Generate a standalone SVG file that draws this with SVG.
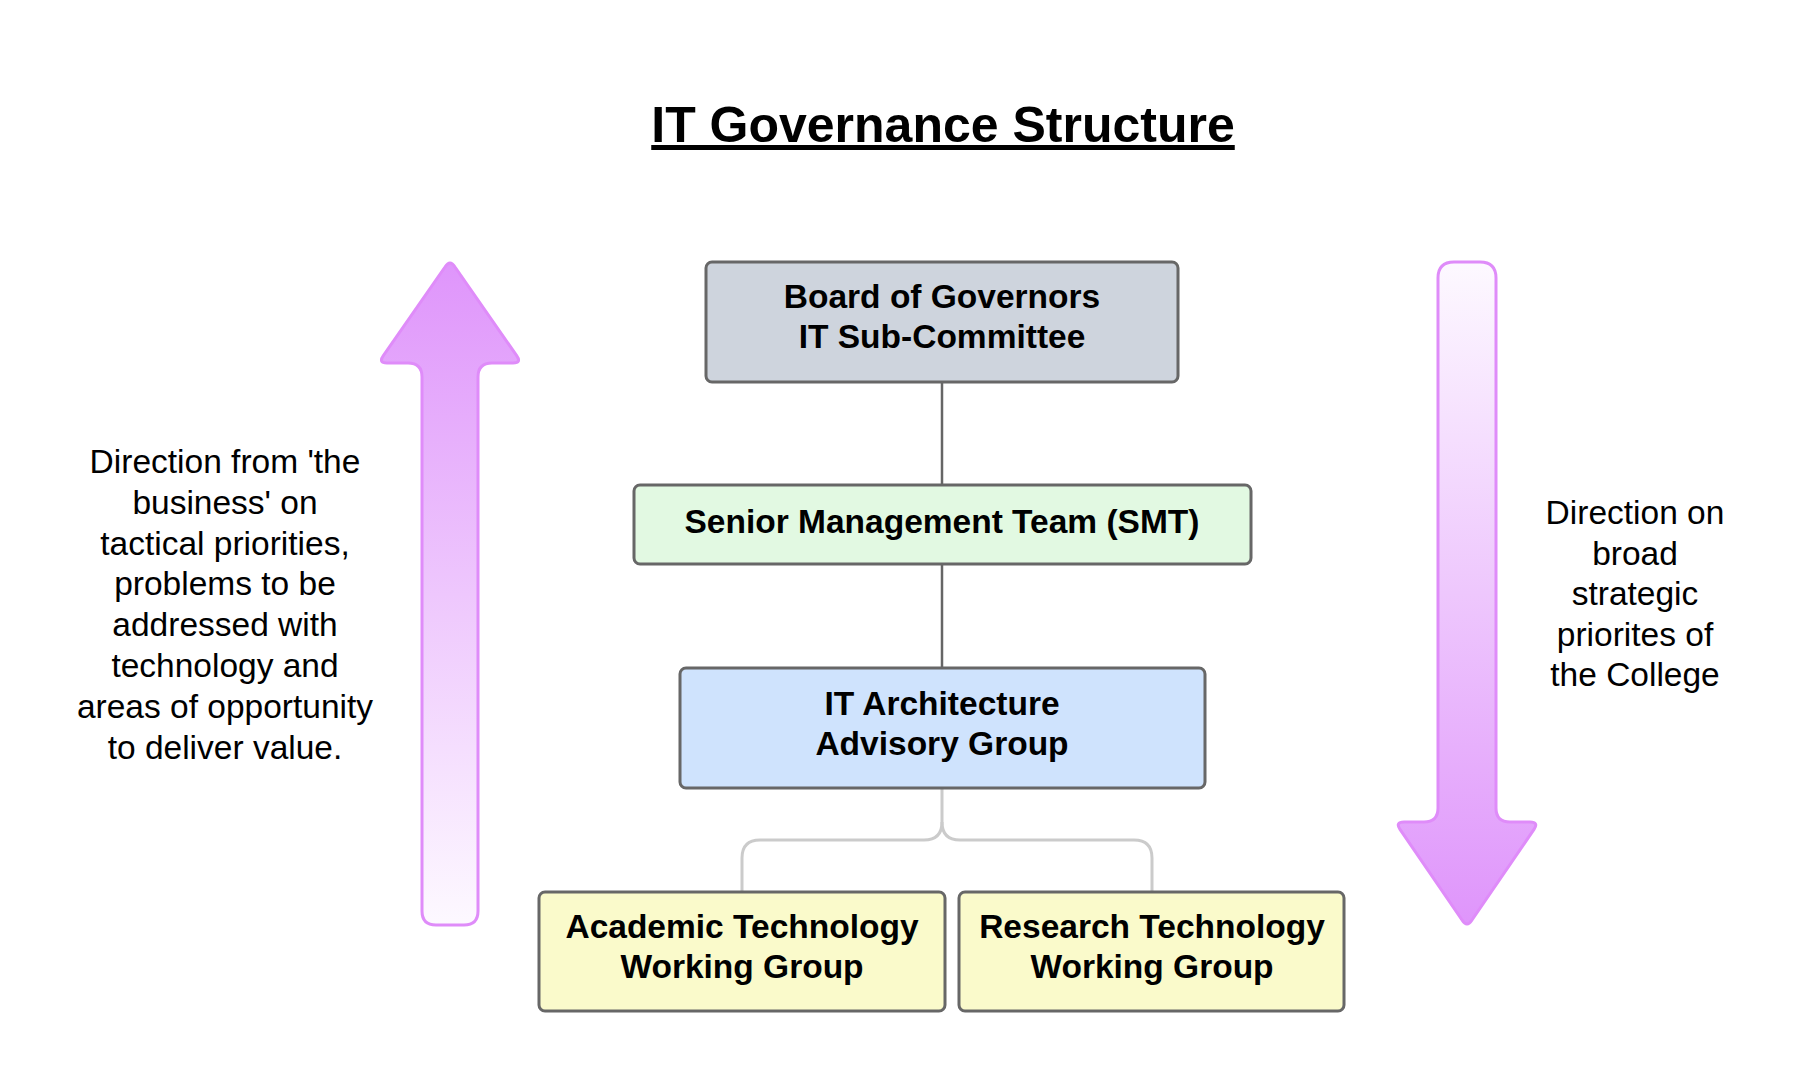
<svg xmlns="http://www.w3.org/2000/svg" width="1804" height="1086" viewBox="0 0 1804 1086">
<defs>
<linearGradient id="gUp" x1="0" y1="0" x2="0" y2="1">
<stop offset="0" stop-color="#df95fb"/>
<stop offset="1" stop-color="#fdf9ff"/>
</linearGradient>
<linearGradient id="gDown" x1="0" y1="0" x2="0" y2="1">
<stop offset="0" stop-color="#fdf9ff"/>
<stop offset="1" stop-color="#df95fb"/>
</linearGradient>
<style>
.node{stroke:#676767;stroke-width:3;}
.nt{font-family:"Liberation Sans",Arial,sans-serif;font-weight:bold;font-size:33.5px;fill:#000;text-anchor:middle;}
.lt{font-family:"Liberation Sans",Arial,sans-serif;font-size:33.5px;fill:#000;text-anchor:middle;}
.arrow{stroke:#df8cf9;stroke-width:3;stroke-linejoin:round;}
.conn{fill:none;stroke:#666;stroke-width:2.5;}
.branch{fill:none;stroke:#cbcbcb;stroke-width:3;}
</style>
</defs>
<rect width="1804" height="1086" fill="#fff"/>

<text id="title" x="943" y="142" font-family="Liberation Sans, Arial, sans-serif" font-weight="bold" font-size="50" text-anchor="middle" text-decoration="underline">IT Governance Structure</text>

<g id="connectors">
<line class="conn" x1="942" y1="382" x2="942" y2="485"/>
<line class="conn" x1="942" y1="564" x2="942" y2="668"/>
<path class="branch" d="M942 788 L942 822 Q942 840 924 840 L760 840 Q742 840 742 858 L742 892"/>
<path class="branch" d="M942 822 Q942 840 960 840 L1134 840 Q1152 840 1152 858 L1152 892"/>
</g>

<g id="arrow-up">
<path class="arrow" fill="url(#gUp)" d="M445 267 Q450 259 455 267 L516.5 355.4 Q522 363 513 363 L492 363 Q478 363 478 377 L478 911 Q478 925 464 925 L436 925 Q422 925 422 911 L422 377 Q422 363 408 363 L387 363 Q378 363 383.5 355.4 Z"/>
</g>

<g id="arrow-down">
<path class="arrow" fill="url(#gDown)" d="M1454 262 L1480 262 Q1496 262 1496 278 L1496 808 Q1496 822 1510 822 L1530 822 Q1539 822 1534 829.4 L1472 920 Q1467 928 1462 920 L1400 829.4 Q1395 822 1404 822 L1424 822 Q1438 822 1438 808 L1438 278 Q1438 262 1454 262 Z"/>
</g>

<g id="text-left">
<text class="lt" x="225" y="473">Direction from 'the</text>
<text class="lt" x="225" y="513.8">business' on</text>
<text class="lt" x="225" y="554.6">tactical priorities,</text>
<text class="lt" x="225" y="595.4">problems to be</text>
<text class="lt" x="225" y="636.2">addressed with</text>
<text class="lt" x="225" y="677">technology and</text>
<text class="lt" x="225" y="717.8">areas of opportunity</text>
<text class="lt" x="225" y="758.6">to deliver value.</text>
</g>

<g id="text-right">
<text class="lt" x="1635" y="524">Direction on</text>
<text class="lt" x="1635" y="564.6">broad</text>
<text class="lt" x="1635" y="605.2">strategic</text>
<text class="lt" x="1635" y="645.8">priorites of</text>
<text class="lt" x="1635" y="686.4">the College</text>
</g>

<g id="node-board">
<rect class="node" x="706" y="262" width="472" height="120" rx="6" fill="#ced4dd"/>
<text class="nt" x="942" y="308">Board of Governors</text>
<text class="nt" x="942" y="348">IT Sub-Committee</text>
</g>

<g id="node-smt">
<rect class="node" x="634" y="485" width="617" height="79" rx="6" fill="#e2f9e2"/>
<text class="nt" x="942" y="533">Senior Management Team (SMT)</text>
</g>

<g id="node-itaag">
<rect class="node" x="680" y="668" width="525" height="120" rx="6" fill="#cfe3fd"/>
<text class="nt" x="942" y="715">IT Architecture</text>
<text class="nt" x="942" y="755">Advisory Group</text>
</g>

<g id="node-academic">
<rect class="node" x="539" y="892" width="406" height="119" rx="6" fill="#fafacb"/>
<text class="nt" x="742" y="938">Academic Technology</text>
<text class="nt" x="742" y="978">Working Group</text>
</g>

<g id="node-research">
<rect class="node" x="959" y="892" width="385" height="119" rx="6" fill="#fafacb"/>
<text class="nt" x="1152" y="938">Research Technology</text>
<text class="nt" x="1152" y="978">Working Group</text>
</g>
</svg>
